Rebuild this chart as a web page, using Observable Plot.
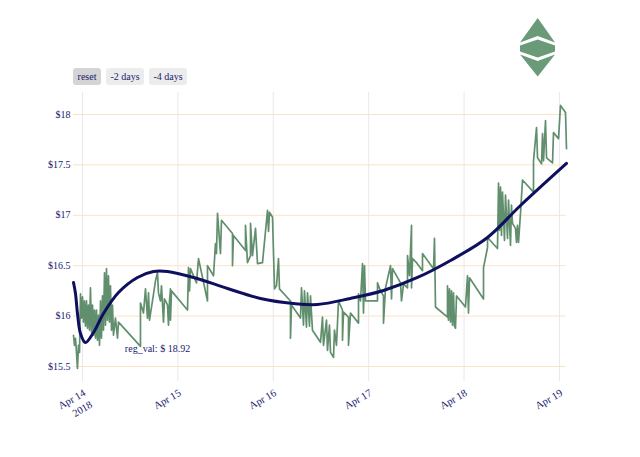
<!DOCTYPE html>
<html><head><meta charset="utf-8">
<script src="https://cdn.jsdelivr.net/npm/d3@7"></script>
<script src="https://cdn.jsdelivr.net/npm/@observablehq/plot@0.6"></script>
<style>
body{margin:0;background:#fff;font-family:"Liberation Serif","Times New Roman",serif;}
#wrap{position:relative;width:640px;height:457px;overflow:hidden;}
.btn{position:absolute;top:68px;height:17px;line-height:17px;font-size:10px;color:#191970;background:#ececec;border-radius:3px;text-align:center;}
#logo{position:absolute;left:0;top:0;}
</style></head><body>
<div id="wrap"></div>
<script>
// ---- data ----
const startDay = "2018-04-14";            // hours below are offsets from this UTC midnight
const tickDays = ["2018-04-14","2018-04-15","2018-04-16","2018-04-17","2018-04-18","2018-04-19"];
const tickLabels = ["Apr 14\n2018","Apr 15","Apr 16","Apr 17","Apr 18","Apr 19"];
const yTicks = [15.5,16,16.5,17,17.5,18];
const yTickLabels = ["$15.5","$16","$16.5","$17","$17.5","$18"];
const yDomain = [15.351,18.218];
const buttons = ["reset","-2 days","-4 days"];
const annotationText = "reg_val: $ 18.92";
const annotationAt = [18.87, 15.68]; // [hour, price]

// price series [hour offset, price]
const priceSeries = [
[-2.26,15.81],[-2.01,15.71],[-1.76,15.78],[-1.51,15.64],[-1.26,15.48],[-1.01,15.71],[-0.75,15.64],[-0.50,16.22],
[-0.25,15.98],[0,16.19],[0.25,15.94],[0.50,16.15],[0.75,15.90],[1.01,16.15],[1.26,15.88],[1.51,16.11],[1.76,15.86],
[2.01,16.28],[2.26,15.84],[2.52,16.11],[2.77,15.81],[3.02,16.06],[3.27,15.78],[3.52,16.06],[3.77,15.76],[4.03,16.01],
[4.28,15.71],[4.53,16.15],[4.78,15.78],[5.03,16.20],[5.28,15.86],[5.54,16.43],[5.79,15.91],[6.04,16.47],[6.29,15.96],
[6.54,16.40],[6.79,15.94],[7.04,16.30],[7.30,15.86],[7.55,16.11],[7.80,15.81],[8.30,15.98],[8.81,15.78],[9.06,15.94],
[14.59,15.70],
[14.59,16.13],[15.35,16.03],[15.85,16.27],[16.35,15.98],[16.61,16.23],[16.86,15.96],[17.61,16.15],[18.37,16.35],
[18.87,16.43],[19.12,16.23],[19.62,16.15],[19.88,16.30],[20.38,15.94],[20.63,16.17],[21.39,16.11],[21.64,15.91],
[21.89,16.15],[22.14,16.27],[22.14,15.96],[22.39,16.25],[26.42,16.06],[26.67,16.48],[26.92,16.25],[27.17,16.47],
[27.93,16.40],[28.68,16.33],[29.19,16.57],[31.45,16.15],[31.45,16.50],[32.96,16.40],[33.46,16.72],[33.71,16.62],
[33.97,17.02],[34.72,16.62],[34.97,16.95],[37.74,16.82],[37.74,16.50],[37.99,16.80],[41.01,16.65],[41.01,16.90],
[41.51,16.53],[42.27,16.60],[42.27,16.92],[42.77,16.60],[43.53,16.87],[44.03,16.52],[45.29,16.53],[46.55,17.05],
[46.80,16.84],[47.05,17.03],[47.81,16.98],[48.31,16.27],[48.81,16.30],[49.31,16.57],[49.56,16.27],[52.33,16.15],
[52.33,15.78],[52.58,16.11],[54.85,15.98],[55.10,16.28],[55.60,15.91],[55.85,16.25],[56.35,15.89],[56.61,16.23],
[57.11,15.90],[57.36,16.20],[57.86,15.86],[59.88,15.74],[60.38,15.99],[60.63,15.71],[61.39,15.96],[61.64,15.66],
[62.14,15.91],[62.39,15.64],[63.15,15.59],[63.40,15.86],[63.90,15.71],[64.41,16.15],[65.41,16.06],[65.41,15.76],
[65.67,16.04],[66.92,15.99],[66.92,15.71],[67.43,16.03],[69.44,15.93],[69.44,16.22],[69.95,16.15],[70.45,16.52],
[70.70,16.03],[70.95,16.50],[71.20,16.15],[74.22,16.15],[74.22,16.33],[74.97,16.25],[75.73,16.20],[75.73,15.93],
[76.24,16.28],[77.49,16.50],[77.75,16.17],[78.00,16.47],[80.01,16.33],[80.26,16.15],[80.77,16.32],[81.77,16.28],
[81.77,16.60],[82.27,16.40],[82.78,16.90],[82.78,16.28],[83.03,16.57],[84.04,16.53],[85.54,16.45],[85.54,16.62],
[88.31,16.47],[88.56,16.77],[88.81,16.09],[91.83,15.99],[91.83,16.30],[92.08,15.96],[92.33,16.27],[92.59,15.94],
[92.84,16.25],[93.09,15.91],[93.34,16.23],[93.59,15.90],[93.84,15.88],[94.10,16.20],[96.36,16.09],[96.86,16.40],
[97.11,16.03],[97.37,16.38],[100.89,16.17],[100.89,16.48],[101.90,16.68],[101.90,16.78],[104.41,16.67],[104.67,17.32],
[104.92,16.85],[105.17,17.28],[105.42,16.80],[105.67,17.23],[106.17,16.75],[106.42,17.20],[106.93,16.77],[107.18,17.15],
[107.68,16.70],[107.93,17.10],[108.18,16.92],[108.94,16.87],[109.19,16.73],[109.44,16.90],[109.70,16.73],[110.20,17.02],
[110.70,17.35],[113.47,17.23],[113.47,17.54],[114.23,17.87],[114.48,17.57],[115.49,17.51],[115.74,17.81],[115.99,17.54],
[116.49,17.94],[116.75,17.57],[118.26,17.52],[118.50,17.82],[119.76,17.76],[120.26,18.09],[121.52,18.02],[121.77,17.66]
];

// regression curve [hour offset, value]
const regressionSeries = [
[-2.26,16.333],[-1.76,16.224],[-1.26,16.026],[-0.50,15.827],[0.75,15.738],[2.77,15.837],[5.28,16.026],[9.06,16.234],
[13.84,16.383],[17.86,16.442],[21.39,16.442],[27.93,16.383],[36.48,16.274],[44.79,16.175],[53.09,16.125],[59.13,16.115],
[67.43,16.175],[75.73,16.254],[84.29,16.383],[92.59,16.552],[101.90,16.780],[110.20,17.097],[121.77,17.514]
];

// ---- build ----
const t0 = Date.parse(startDay + "T00:00:00Z");
const toDate = h => new Date(t0 + h * 3600e3);
const price = priceSeries.map(([h, p]) => ({t: toDate(h), p}));
const reg = regressionSeries.map(([h, p]) => ({t: toDate(h), p}));
const tickDates = tickDays.map(d => new Date(d + "T00:00:00Z"));
const labelOf = d => tickLabels[tickDates.findIndex(t => +t === +d)] ?? "";
const yLabelOf = v => yTickLabels[yTicks.indexOf(v)] ?? "";
const ink = "#191970";

const chart = Plot.plot({
  width: 640, height: 457,
  marginLeft: 73, marginRight: 74, marginTop: 92, marginBottom: 76,
  style: {fontFamily: '"Liberation Serif","Times New Roman",serif', fontSize: "10px", color: ink, background: "white"},
  x: {type: "utc", domain: [price[0].t, price[price.length - 1].t], axis: null},
  y: {domain: yDomain, ticks: yTicks, tickFormat: yLabelOf, tickSize: 0, tickPadding: 3, label: null},
  marks: [
    Plot.gridX(tickDates, {stroke: "#e8e8e8", strokeOpacity: 1}),
    Plot.gridY(yTicks, {stroke: "#fde3c5", strokeOpacity: 1}),
    Plot.line(price, {x: "t", y: "p", stroke: "#618f6e", strokeWidth: 1.7}),
    Plot.line(reg, {x: "t", y: "p", stroke: "#0f0f60", strokeWidth: 3, curve: "catmull-rom"}),
    Plot.text([{t: toDate(annotationAt[0]), p: annotationAt[1], s: annotationText}],
      {x: "t", y: "p", text: "s", fill: ink, fontSize: 10}),
    Plot.text(tickDates, {x: d => d, frameAnchor: "bottom", text: labelOf, rotate: -30,
      textAnchor: "end", lineAnchor: "top", lineHeight: 1.3, dx: -1, dy: 5, fill: ink, fontSize: 10.5})
  ]
});
const wrap = document.getElementById("wrap");
wrap.appendChild(chart);

// buttons
const btnPos = [[73, 28, "#d4d4d4"], [106, 38, "#ececec"], [149, 38, "#ececec"]];
buttons.forEach((b, i) => {
  const el = document.createElement("div");
  el.className = "btn";
  el.textContent = b;
  el.style.left = btnPos[i][0] + "px";
  el.style.width = btnPos[i][1] + "px";
  el.style.background = btnPos[i][2];
  wrap.appendChild(el);
});

// logo
const ns = "http://www.w3.org/2000/svg";
const logo = document.createElementNS(ns, "svg");
logo.setAttribute("id", "logo");
logo.setAttribute("width", 640); logo.setAttribute("height", 100);
const polys = [
  "537.7,18 555,42.5 537.7,36 520,42.5",
  "520,45.5 537.7,39.5 555,45.5 555,51.5 537.7,57.5 520,51.5",
  "520,54.5 537.7,61 555,54.5 537.7,76.5"
];
polys.forEach(p => {
  const el = document.createElementNS(ns, "polygon");
  el.setAttribute("points", p);
  el.setAttribute("fill", "#6a9a78");
  logo.appendChild(el);
});
wrap.appendChild(logo);
</script>
</body></html>
